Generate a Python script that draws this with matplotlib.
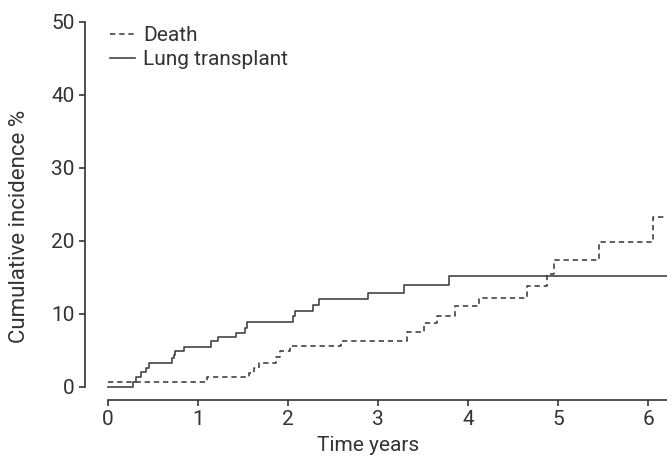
import numpy as np
import matplotlib.pyplot as plt

plt.rcParams['font.family'] = ['Roboto', 'DejaVu Sans']

# Cumulative incidence (%), step functions
tx_times = [0, 0.28, 0.31, 0.37, 0.42, 0.46, 0.71, 0.73, 0.75, 0.85, 1.15, 1.22,
            1.42, 1.52, 1.55, 2.06, 2.08, 2.28, 2.34, 2.89, 3.29, 3.79, 6.4]
tx_values = [0, 0.7, 1.4, 2.0, 2.6, 3.3, 3.9, 4.4, 4.9, 5.5, 6.2, 6.8,
             7.4, 8.1, 8.9, 9.7, 10.4, 11.2, 12.0, 12.9, 14.0, 15.2, 15.2]

death_times = [0, 1.10, 1.57, 1.62, 1.68, 1.87, 1.91, 2.02, 2.59, 3.32, 3.51,
               3.66, 3.86, 4.12, 4.65, 4.88, 4.95, 5.45, 6.06, 6.4]
death_values = [0.7, 1.3, 1.9, 2.6, 3.3, 4.1, 4.9, 5.6, 6.3, 7.5, 8.7,
                9.7, 11.0, 12.2, 13.8, 15.4, 17.4, 19.8, 23.2, 23.2]

xticks = [0, 1, 2, 3, 4, 5, 6]
yticks = [0, 10, 20, 30, 40, 50]

ink = '#333333'

fig = plt.figure(figsize=(6.67, 4.58), dpi=100)
ax = fig.add_axes([0.1274, 0.1266, 0.8726, 0.8734])

ax.step(death_times, death_values, where='post', color=ink, lw=1.1,
        linestyle=(0, (3.5, 2.5)), label='Death')
ax.step(tx_times, tx_values, where='post', color='#444444', lw=1.2,
        label='Lung transplant')

ax.set_xlim(-0.2556, 6.211)
ax.set_ylim(-1.82, 52.97)
ax.set_xticks(xticks)
ax.set_yticks(yticks)

for s in ['top', 'right']:
    ax.spines[s].set_visible(False)
ax.spines['left'].set_bounds(0, 50)
ax.spines['bottom'].set_bounds(0, 6.211)
for s in ['left', 'bottom']:
    ax.spines[s].set_color(ink)
    ax.spines[s].set_linewidth(1.2)

ax.tick_params(length=4.5, width=1.2, color=ink, labelcolor=ink,
               labelsize=15, pad=3)

ax.set_xlabel('Time years', fontsize=15, color=ink)
ax.xaxis.label.set_va('baseline')
ax.xaxis.set_label_coords(0.486, -0.128)
ax.set_ylabel('Cumulative incidence %', fontsize=16, color=ink)
ax.yaxis.set_label_coords(-0.095, 0.435)

ax.legend(loc='upper left', bbox_to_anchor=(0.043, 0.935), frameon=False,
          fontsize=15, handlelength=1.2, handletextpad=0.4, labelspacing=0.25,
          borderpad=0, borderaxespad=0, labelcolor=ink)

fig.savefig('out.png', dpi=100)
